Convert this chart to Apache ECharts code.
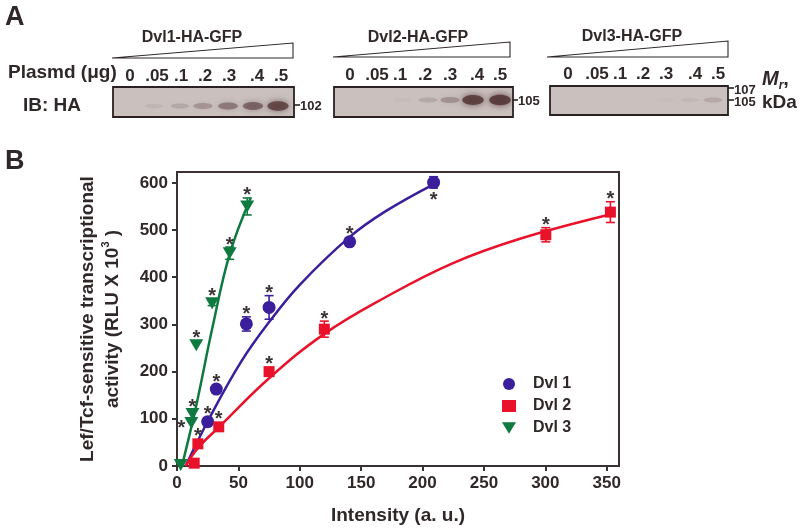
<!DOCTYPE html>
<html><head><meta charset="utf-8">
<script src="https://cdn.jsdelivr.net/npm/echarts@6/dist/echarts.min.js"></script>
<style>html,body{margin:0;padding:0;background:#fff}#c{width:800px;height:532px}</style>
</head><body><div id="c"></div>
<script>
// ---------- data ----------
const xTicks = [0, 50, 100, 150, 200, 250, 300, 350];
const yTicks = [0, 100, 200, 300, 400, 500, 600];

const dvl1X = [25, 32, 56.5, 75, 140.6, 209];
const dvl1Y = [94, 163, 301, 336, 475, 601];
const dvl1Err = [0, 0, 15, 25, 0, 12];
const dvl1Star = ['top', 'top', 'top', 'top', 'top', 'bottom'];

const dvl2X = [14, 17, 34, 75, 120, 300.4, 353];
const dvl2Y = [6, 47, 83, 200, 290, 490, 538];
const dvl2Err = [0, 0, 0, 5, 17, 15, 22];
const dvl2Star = ['', 'top', 'top', 'top', 'top', 'top', 'top'];

const dvl3X = [3, 11.7, 12.6, 15.7, 28.6, 42.9, 57.2];
const dvl3Y = [2, 91, 110, 256, 345, 451, 550];
const dvl3Err = [0, 0, 0, 0, 5, 13, 18];
const dvl3Star = ['', 'left', 'top', 'top', 'top', 'top', 'top'];

// fitted curves
const fit1X = [7, 25.5, 52, 75, 100, 140, 170, 209];
const fit1Y = [0, 97, 220, 305, 384, 484, 540, 597];
const fit2X = [7, 17, 34, 75, 120, 168, 223, 280, 356];
const fit2Y = [0, 38, 82, 186, 280, 355, 428, 482, 535];
const fit3X = [4, 15, 29, 43, 60];
const fit3Y = [0, 120, 295, 450, 568];

// western blot
const laneLabels = ['0', '.05', '.1', '.2', '.3', '.4', '.5'];
const blot1Band = [0, 0.08, 0.16, 0.28, 0.45, 0.58, 0.78];
const blot2Band = [0, 0, 0.04, 0.16, 0.3, 0.85, 0.9];
const blot3Band = [0, 0, 0, 0, 0.03, 0.06, 0.16];

// ---------- layout / style ----------
const FONT = "'Liberation Sans', Arial, sans-serif";
const TXT = '#302828';
const C1 = '#3b1e9c', C2 = '#e8132b', C3 = '#0f7a40';

const chart = echarts.init(document.getElementById('c'));

function errRender(xs, ys, errs, stars, color) {
  return function (params, api) {
    const i = params.dataIndex;
    const c = api.coord([xs[i], ys[i]]);
    const ch = [];
    let errPx = 0;
    if (errs[i] > 0) {
      const t = api.coord([xs[i], ys[i] + errs[i]]);
      const b = api.coord([xs[i], ys[i] - errs[i]]);
      errPx = c[1] - t[1];
      const st = { stroke: color, lineWidth: 1.6 };
      ch.push({ type: 'line', shape: { x1: c[0], y1: t[1], x2: c[0], y2: b[1] }, style: st });
      ch.push({ type: 'line', shape: { x1: c[0] - 4.5, y1: t[1], x2: c[0] + 4.5, y2: t[1] }, style: st });
      ch.push({ type: 'line', shape: { x1: c[0] - 4.5, y1: b[1], x2: c[0] + 4.5, y2: b[1] }, style: st });
    }
    const s = stars[i];
    if (s) {
      let tx = c[0], ty = c[1];
      const off = Math.max(12, errPx + 7);
      if (s === 'top') ty -= off; else if (s === 'bottom') ty += off; else if (s === 'left') tx -= 10;
      ch.push({ type: 'text', style: { text: '*', x: tx, y: ty + 5, align: 'center', verticalAlign: 'middle',
        font: 'bold 20px ' + FONT, fill: '#3a3333' } });
    }
    return { type: 'group', children: ch };
  };
}

function pairs(xs, ys) { return xs.map((x, i) => [x, ys[i]]); }

// ---- panel A graphics ----
const G = [];
function txt(t, x, y, size, opts) {
  opts = opts || {};
  G.push({ type: 'text', x: x, y: y, style: Object.assign({ text: t, font: (opts.italic ? 'italic ' : '') + 'bold ' + size + 'px ' + FONT,
    fill: TXT, align: opts.align || 'center', verticalAlign: 'middle', textAlign: opts.align || 'center', textVerticalAlign: 'middle' }, opts.style || {}) });
}
txt('A', 5, 18, 27, { align: 'left' });
txt('B', 5, 162, 27, { align: 'left' });
txt('Plasmd (μg)', 8, 73, 19, { align: 'left' });
txt('IB: HA', 23, 106, 19, { align: 'left' });

const blots = [
  { title: 'Dvl1-HA-GFP', tx: 192, ty: 38, wedge: [[112, 58], [293, 43], [293, 58]], box: [113, 87, 181, 30],
    laneX: [130, 157, 181, 205, 229, 257, 281], labY: 76, bandX: [130, 154, 180, 203, 228, 253, 278], bandY: 106, bands: blot1Band },
  { title: 'Dvl2-HA-GFP', tx: 418, ty: 38, wedge: [[333, 57], [510, 42], [510, 57]], box: [334, 87, 179, 30],
    laneX: [350, 377, 400, 425, 450, 477, 500], labY: 75, bandX: [350, 376, 402, 428, 450, 473, 500], bandY: 100, bands: blot2Band },
  { title: 'Dvl3-HA-GFP', tx: 632, ty: 37, wedge: [[547, 57], [728, 41], [728, 57]], box: [550, 86, 178, 29],
    laneX: [568, 597, 620, 643, 666, 695, 718], labY: 74, bandX: [566, 594, 618, 642, 665, 690, 713], bandY: 100, bands: blot3Band }
];
blots.forEach(b => {
  txt(b.title, b.tx, b.ty, 16);
  G.push({ type: 'polygon', shape: { points: b.wedge }, style: { fill: '#fff', stroke: '#2f2828', lineWidth: 1.1 } });
  laneLabels.forEach((l, i) => txt(l, b.laneX[i], b.labY, 17));
  G.push({ type: 'rect', shape: { x: b.box[0], y: b.box[1], width: b.box[2], height: b.box[3] },
    style: { fill: '#cac1be', stroke: '#2a2222', lineWidth: 1.8 } });
  b.bands.forEach((v, i) => {
    if (v <= 0) return;
    G.push({ type: 'ellipse', shape: { cx: b.bandX[i], cy: b.bandY, rx: 9 + 2 * v, ry: 2 + 3.5 * v },
      style: { fill: 'rgba(85,55,55,' + Math.min(1, v) + ')', shadowBlur: 5 + 3 * v, shadowColor: 'rgba(85,55,55,' + Math.min(1, v * 1.1) + ')' } });
  });
});
// MW markers
function tick(x1, y, x2) { G.push({ type: 'line', shape: { x1: x1, y1: y, x2: x2, y2: y }, style: { stroke: '#2a2222', lineWidth: 1.6 } }); }
tick(294, 105, 300); txt('102', 300, 106, 13, { align: 'left' });
tick(513, 100, 518); txt('105', 518, 101, 13, { align: 'left' });
tick(728, 88, 734); txt('107', 734, 90, 13, { align: 'left' });
tick(728, 100, 734); txt('105', 734, 102, 13, { align: 'left' });
G.push({ type: 'text', x: 762, y: 79, style: { text: '{i|M}{s|r}{n|,}', fill: TXT, align: 'left', verticalAlign: 'middle',
  textAlign: 'left', textVerticalAlign: 'middle',
  rich: { i: { font: 'italic bold 20px ' + FONT, fill: TXT, verticalAlign: 'bottom' },
          s: { font: 'italic bold 12px ' + FONT, fill: TXT, verticalAlign: 'bottom', padding: [0, 0, -3, 0] },
          n: { font: 'bold 20px ' + FONT, fill: TXT, verticalAlign: 'bottom' } } } });
txt('kDa', 762, 103, 19, { align: 'left' });

const axisCol = '#3a3232';
const option = {
  backgroundColor: '#fff',
  animation: false,
  textStyle: { fontFamily: FONT },
  grid: { left: 177, top: 172, right: 181, bottom: 66, show: true, borderColor: axisCol, borderWidth: 2, backgroundColor: 'transparent' },
  legend: {
    data: ['Dvl 1', 'Dvl 2', { name: 'Dvl 3', icon: 'path://M0,0L12,0L6,10Z' }],
    orient: 'vertical', left: 497, top: 371, itemWidth: 14, itemHeight: 12, itemGap: 6,
    selectedMode: false, textStyle: { fontSize: 16, fontWeight: 'bold', color: TXT, fontFamily: FONT, padding: [0, 0, 0, 12] }
  },
  xAxis: {
    type: 'value', min: 0, max: 360, interval: 50,
    name: 'Intensity (a. u.)', nameLocation: 'middle', nameGap: 40,
    nameTextStyle: { fontSize: 19, fontWeight: 'bold', color: TXT, fontFamily: FONT },
    axisLine: { lineStyle: { color: axisCol, width: 2 } },
    axisTick: { show: true, length: 5, lineStyle: { color: axisCol, width: 2 }, customValues: xTicks },
    axisLabel: { fontSize: 17, fontWeight: 'bold', color: TXT, margin: 9, customValues: xTicks },
    splitLine: { show: false }
  },
  yAxis: {
    type: 'value', min: 0, max: 623, interval: 100,
    name: 'Lef/Tcf-sensitive transcriptional\nactivity (RLU X 10{sup|3} )', nameLocation: 'middle', nameGap: 52,
    nameTextStyle: { fontSize: 19, fontWeight: 'bold', color: TXT, fontFamily: FONT, lineHeight: 25,
      rich: { sup: { fontSize: 11, fontWeight: 'bold', color: TXT, verticalAlign: 'top', lineHeight: 12 } } },
    axisLine: { lineStyle: { color: axisCol, width: 2 } },
    axisTick: { show: true, length: 5, lineStyle: { color: axisCol, width: 2 }, customValues: yTicks },
    axisLabel: { fontSize: 17, fontWeight: 'bold', color: TXT, margin: 9, customValues: yTicks },
    splitLine: { show: false }
  },
  graphic: G,
  series: [
    { name: 'fit1', type: 'line', data: pairs(fit1X, fit1Y), smooth: 0.4, symbol: 'none', lineStyle: { color: C1, width: 2.5 }, z: 2, silent: true },
    { name: 'fit2', type: 'line', data: pairs(fit2X, fit2Y), smooth: 0.4, symbol: 'none', lineStyle: { color: C2, width: 2.5 }, z: 2, silent: true },
    { name: 'fit3', type: 'line', data: pairs(fit3X, fit3Y), smooth: 0.4, symbol: 'none', lineStyle: { color: C3, width: 2.5 }, z: 2, silent: true },
    { name: 'err1', type: 'custom', data: pairs(dvl1X, dvl1Y), renderItem: errRender(dvl1X, dvl1Y, dvl1Err, dvl1Star, C1), z: 3, silent: true },
    { name: 'err2', type: 'custom', data: pairs(dvl2X, dvl2Y), renderItem: errRender(dvl2X, dvl2Y, dvl2Err, dvl2Star, C2), z: 3, silent: true },
    { name: 'err3', type: 'custom', data: pairs(dvl3X, dvl3Y), renderItem: errRender(dvl3X, dvl3Y, dvl3Err, dvl3Star, C3), z: 3, silent: true },
    { name: 'Dvl 1', type: 'scatter', data: pairs(dvl1X, dvl1Y), symbol: 'circle', symbolSize: 13, itemStyle: { color: C1, opacity: 1 }, z: 4 },
    { name: 'Dvl 2', type: 'scatter', data: pairs(dvl2X, dvl2Y), symbol: 'rect', symbolSize: 11, itemStyle: { color: C2, opacity: 1 }, z: 4 },
    { name: 'Dvl 3', type: 'scatter', data: pairs(dvl3X, dvl3Y), symbol: 'triangle', symbolRotate: 180, symbolSize: [14, 12], itemStyle: { color: C3, opacity: 1 }, z: 4 }
  ]
};
chart.setOption(option);
</script>
</body></html>
